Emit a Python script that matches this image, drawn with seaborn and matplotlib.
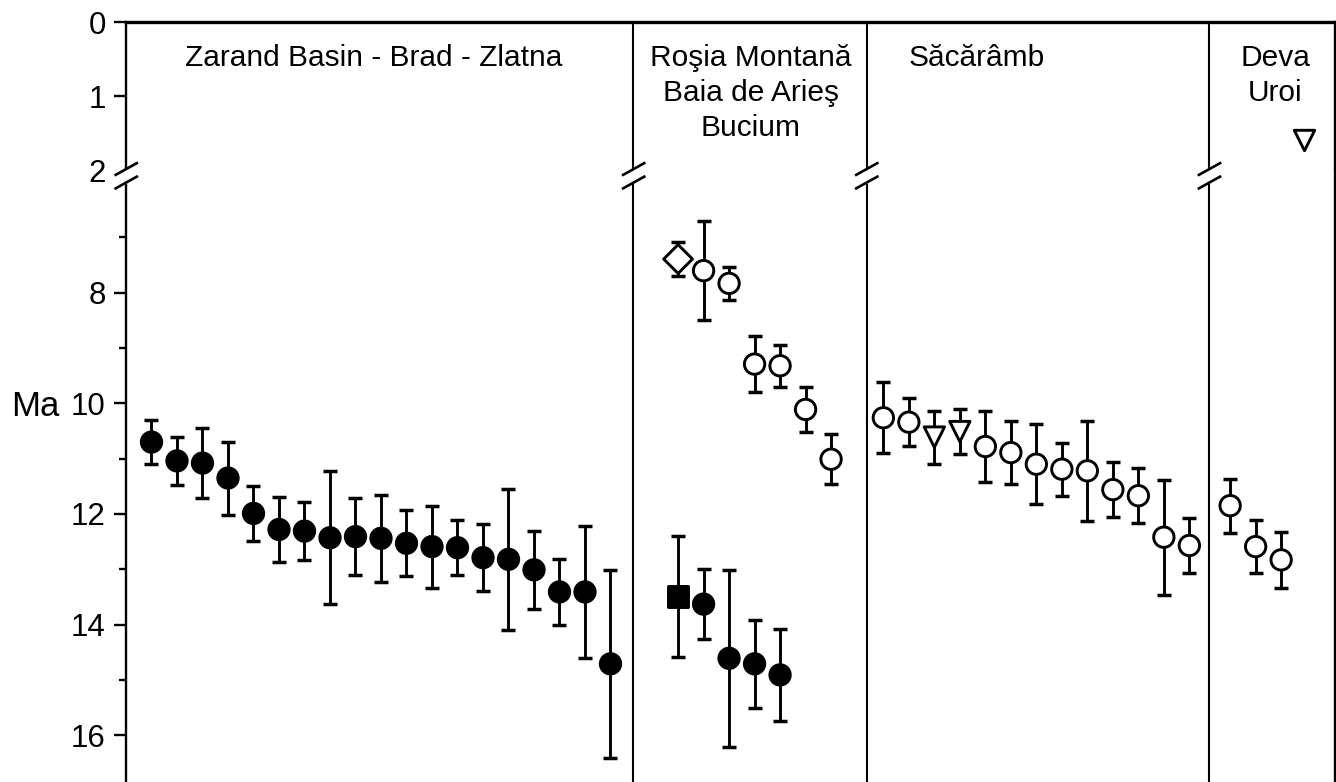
import numpy as np
import pandas as pd
import seaborn as sns
import matplotlib.pyplot as plt
import matplotlib.transforms as mtransforms
from matplotlib.lines import Line2D

# ages (Ma) and errors, by district
zarand_age = [10.70, 11.04, 11.08, 11.35, 11.99, 12.28, 12.31, 12.43, 12.41, 12.44,
              12.53, 12.59, 12.61, 12.79, 12.82, 13.01, 13.41, 13.41, 14.71]
zarand_err = [0.40, 0.44, 0.63, 0.66, 0.50, 0.58, 0.53, 1.20, 0.70, 0.79,
              0.60, 0.74, 0.50, 0.60, 1.27, 0.70, 0.60, 1.20, 1.70]
zarand_sym = ["filled circle"] * 19

rosia_young_age = [7.39, 7.60, 7.83, 9.29, 9.32, 10.11, 11.01]
rosia_young_err = [0.30, 0.90, 0.30, 0.50, 0.38, 0.40, 0.45]
rosia_young_sym = ["open diamond"] + ["open circle"] * 6

rosia_old_age = [13.49, 13.63, 14.61, 14.71, 14.91]
rosia_old_err = [1.10, 0.63, 1.60, 0.80, 0.83]
rosia_old_sym = ["filled square"] + ["filled circle"] * 4

sacaramb_age = [10.26, 10.34, 10.61, 10.51, 10.78, 10.89, 11.10, 11.19, 11.22,
                11.56, 11.67, 12.42, 12.57]
sacaramb_err = [0.64, 0.43, 0.48, 0.40, 0.64, 0.57, 0.72, 0.48, 0.90,
                0.50, 0.50, 1.04, 0.50]
sacaramb_sym = ["open circle", "open circle", "open triangle", "open triangle"] + ["open circle"] * 9

deva_age = [11.85, 12.59, 12.83]
deva_err = [0.49, 0.48, 0.50]
deva_sym = ["open circle"] * 3

deva_recent_age = [1.59]
deva_recent_sym = ["open triangle"]

group_labels = [["Zarand Basin - Brad - Zlatna"],
                ["Roşia Montană", "Baia de Arieş", "Bucium"],
                ["Săcărâmb"],
                ["Deva", "Uroi"]]

upper_ticks = [0, 1, 2]
lower_ticks = [8, 10, 12, 14, 16]
lower_minor = [7, 9, 11, 13, 15]

# layout (x in sample slots)
group_start = {"zarand": 1.0, "rosia": 21.65, "sacaramb": 29.7, "deva": 43.3, "deva_recent": 46.2}
sep_x = [19.9, 29.04, 42.48]
label_x = [9.73, 24.5, 30.7, 45.06]
label_ha = ["center", "center", "left", "center"]


def make_group(start, ages, errs, syms):
    return pd.DataFrame({"x": start + np.arange(len(ages)), "age": ages,
                         "err": errs, "symbol": syms})


lower = pd.concat([
    make_group(group_start["zarand"], zarand_age, zarand_err, zarand_sym),
    make_group(group_start["rosia"], rosia_young_age, rosia_young_err, rosia_young_sym),
    make_group(group_start["rosia"], rosia_old_age, rosia_old_err, rosia_old_sym),
    make_group(group_start["sacaramb"], sacaramb_age, sacaramb_err, sacaramb_sym),
    make_group(group_start["deva"], deva_age, deva_err, deva_sym),
], ignore_index=True)
upper = make_group(group_start["deva_recent"], deva_recent_age, [0.0], deva_recent_sym)

marker_map = {"filled circle": "o", "open circle": "o", "filled square": "s",
              "open diamond": "D", "open triangle": "v"}
color_map = {"filled circle": "black", "open circle": "white", "filled square": "black",
             "open diamond": "white", "open triangle": "white"}

sns.set_theme(style="ticks")
plt.rcParams["font.family"] = ["Liberation Sans", "DejaVu Sans"]
plt.rcParams["text.color"] = "black"

W, H = 1336, 782
fig = plt.figure(figsize=(W / 100, H / 100), dpi=100)
left, right = 126 / W, 1335 / W
y_break = 170
ax_top = fig.add_axes([left, 1 - y_break / H, right - left, (y_break - 22) / H])
ax_bot = fig.add_axes([left, 0, right - left, 1 - y_break / H])

xmax = (1335 - 126) / 25.5

# error bars then symbols
ax_bot.errorbar(lower["x"], lower["age"], yerr=lower["err"], fmt="none", ecolor="black",
                elinewidth=2.1, capsize=5.0, capthick=2.5, zorder=2)
sns.scatterplot(data=lower, x="x", y="age", hue="symbol", style="symbol",
                markers=marker_map, palette=color_map, s=215, edgecolor="black",
                linewidth=2.1, legend=False, ax=ax_bot, zorder=3)
sns.scatterplot(data=upper, x="x", y="age", hue="symbol", style="symbol",
                markers=marker_map, palette=color_map, s=215, edgecolor="black",
                linewidth=2.1, legend=False, ax=ax_top, zorder=3)

ax_top.set_ylim(2, 0)
ax_bot.set_ylim(5.78 + (H - y_break) / 55.3, 5.78)
for ax in (ax_top, ax_bot):
    ax.set_xlim(0, xmax)
    ax.set_xticks([])
    ax.set_xlabel("")
    ax.set_ylabel("")
    ax.spines["bottom"].set_visible(False)
    for s in ("left", "right", "top"):
        ax.spines[s].set_linewidth(1.7)
        ax.spines[s].set_color("black")
    ax.tick_params(axis="y", which="major", length=8.6, width=1.7, pad=6,
                   labelsize=22.5, colors="black")
    ax.tick_params(axis="y", which="minor", length=4.8, width=1.7, colors="black")
    for xs in sep_x:
        ax.axvline(xs, color="black", lw=1.5, zorder=1)
ax_top.spines["top"].set_linewidth(2.4)
ax_bot.spines["top"].set_visible(False)

ax_top.set_yticks(upper_ticks)
ax_top.yaxis.get_major_ticks()[2].tick1line.set_visible(False)
ax_bot.set_yticks(lower_ticks)
ax_bot.set_yticks(lower_minor, minor=True)

# group names
for lines, lx, ha in zip(group_labels, label_x, label_ha):
    for i, line in enumerate(lines):
        ax_top.text(lx, 0.6 + i * 0.473, line, ha=ha, va="baseline", fontsize=21.5, color="black")

trans_ma = mtransforms.blended_transform_factory(ax_bot.transAxes, ax_bot.transData)
ax_bot.text(-0.0753, 10.22, "Ma", transform=trans_ma, ha="center", va="baseline",
            fontsize=25, color="black")

# axis break marks
brk = mtransforms.blended_transform_factory(ax_bot.transData, fig.transFigure)
for xb in [0] + sep_x:
    fig.add_artist(Line2D([xb, xb], [1 - 171 / H, 1 - 181 / H], transform=brk,
                          color="white", lw=3.5, zorder=5))
    for yc in (169, 182.5):
        fig.add_artist(Line2D([xb - 0.45, xb + 0.47], [1 - (yc + 6.5) / H, 1 - (yc - 6.5) / H],
                              transform=brk, color="black", lw=1.9, zorder=6,
                              solid_capstyle="butt"))

fig.savefig("out.png", dpi=100)
